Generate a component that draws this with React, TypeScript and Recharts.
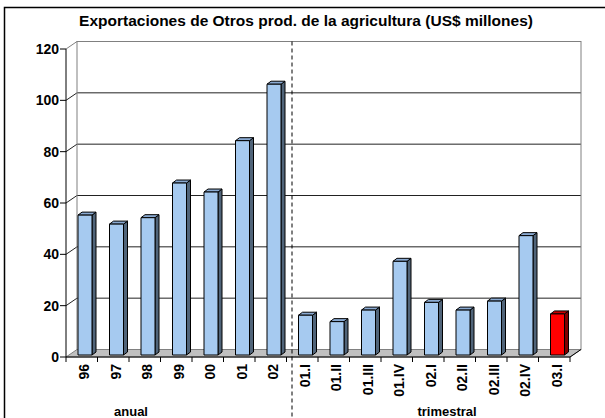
import { Bar, BarChart, CartesianGrid, ReferenceArea, XAxis, YAxis } from 'recharts'

const categories = ['96', '97', '98', '99', '00', '01', '02', '01.I', '01.II', '01.III', '01.IV', '02.I', '02.II', '02.III', '02.IV', '03.I']
const values = [54.5, 51, 53.5, 67, 63.5, 83.5, 105.5, 15.5, 13, 17.5, 36.5, 20.5, 17.5, 21, 46.5, 16]
const highlighted = ['03.I']
const yTicks = [0, 20, 40, 60, 80, 100, 120]
const firstQuarter = '01.I'
const title = 'Exportaciones de Otros prod. de la agricultura (US$ millones)'
const groupLabels = [
  { text: 'anual', x: 131 },
  { text: 'trimestral', x: 447 },
]

const data = categories.map((cat, i) => ({ cat, value: values[i] }))

const W = 605
const H = 418
const PLOT_LEFT = 69
const PLOT_RIGHT = 573
const PLOT_TOP = 47
const PLOT_BOTTOM = 355
// excel-style 3d: front axis plane and back wall relative to the bar plane
const FRONT = { dx: -3, dy: 2 }
const BACK = { dx: 8, dy: -5.5 }
const BAR_DEPTH = { dx: 4, dy: 3 }
const FONT = '"Liberation Sans", Arial, sans-serif'

function Bar3D(props: any) {
  const { x, y, width, height, payload } = props
  if (height == null || height <= 0) return null
  const red = highlighted.includes(payload.cat)
  const c = red
    ? { face: '#FF0000', top: '#C80000', side: '#800000' }
    : { face: '#A6CAF0', top: '#8AAAD2', side: '#506479' }
  const { dx, dy } = BAR_DEPTH
  const r = x + width
  const b = y + height
  return (
    <g stroke="#000" strokeWidth={1} strokeLinejoin="round">
      <polygon points={`${r},${y} ${r + dx},${y - dy} ${r + dx},${b - dy} ${r},${b}`} fill={c.side} />
      <polygon points={`${x},${y} ${x + dx},${y - dy} ${r + dx},${y - dy} ${r},${y}`} fill={c.top} />
      <rect x={x} y={y} width={width} height={height} fill={c.face} />
    </g>
  )
}

function Walls(props: any) {
  const { x, y, width: w, height: h } = props
  const fx = x + FRONT.dx
  const bx = x + BACK.dx
  const fb = y + h + FRONT.dy
  const bb = y + h + BACK.dy
  const bt = y + BACK.dy
  return (
    <g>
      <rect x={bx} y={bt} width={w} height={h} fill="none" stroke="#808080" />
      <line x1={fx} y1={y + FRONT.dy} x2={bx} y2={bt} stroke="#808080" />
      <polygon
        points={`${fx},${fb} ${fx + w},${fb} ${bx + w},${bb} ${bx},${bb}`}
        fill="#C0C0C0"
        stroke="#808080"
      />
      <line x1={fx} y1={fb} x2={fx + w} y2={fb} stroke="#000" />
      <line x1={fx + w} y1={fb} x2={bx + w} y2={bb} stroke="#000" />
      <line x1={fx} y1={y + FRONT.dy} x2={fx} y2={fb} stroke="#000" />
    </g>
  )
}

function GridLine(props: any) {
  const { y1, x1, x2 } = props
  const key = props.key ?? `g-${y1}`
  if (Math.abs(y1 - PLOT_BOTTOM) < 0.5 || Math.abs(y1 - PLOT_TOP) < 0.5) return <g key={key} />
  return (
    <g key={key} stroke="#222" strokeWidth={1}>
      <line x1={x1 + BACK.dx} y1={y1 + BACK.dy} x2={x2 + BACK.dx} y2={y1 + BACK.dy} />
      <line x1={x1 + FRONT.dx} y1={y1 + FRONT.dy} x2={x1 + BACK.dx} y2={y1 + BACK.dy} />
    </g>
  )
}

function YTick(props: any) {
  const { y, payload } = props
  const ax = PLOT_LEFT + FRONT.dx
  const ty = y + FRONT.dy
  return (
    <g>
      <line x1={ax - 6} y1={ty} x2={ax} y2={ty} stroke="#000" />
      <text
        x={ax - 7}
        y={ty}
        textAnchor="end"
        dominantBaseline="central"
        fontFamily={FONT}
        fontWeight="bold"
        fontSize={14}
        fill="#000"
      >
        {payload.value}
      </text>
    </g>
  )
}

function XTick(props: any) {
  const { x, payload } = props
  const band = (PLOT_RIGHT - PLOT_LEFT) / categories.length
  const idx = categories.indexOf(payload.value)
  const ay = PLOT_BOTTOM + FRONT.dy
  const left = x - band / 2 + FRONT.dx
  const ly = ay + 7
  return (
    <g>
      <line x1={left} y1={ay} x2={left} y2={ay + 5} stroke="#000" />
      {idx === categories.length - 1 && (
        <line x1={left + band} y1={ay} x2={left + band} y2={ay + 5} stroke="#000" />
      )}
      {payload.value === firstQuarter && (
        <line
          x1={x - band / 2 + 2.5}
          y1={PLOT_TOP + BACK.dy}
          x2={x - band / 2 + 2.5}
          y2={H}
          stroke="#000"
          strokeDasharray="4 3"
        />
      )}
      <text
        x={x - 0.5}
        y={ly}
        transform={`rotate(-90 ${x - 0.5} ${ly})`}
        textAnchor="end"
        dominantBaseline="central"
        fontFamily={FONT}
        fontWeight="bold"
        fontSize={14}
        fill="#000"
      >
        {payload.value}
      </text>
    </g>
  )
}

export default function App() {
  return (
    <div style={{ position: 'absolute', left: 0, top: 0, width: W, height: H, background: '#fff', overflow: 'hidden' }}>
      <BarChart
        width={W}
        height={H}
        data={data}
        margin={{ top: PLOT_TOP, right: W - PLOT_RIGHT, bottom: 0, left: 0 }}
      >
        <ReferenceArea y1={0} y2={120} shape={(p: any) => <Walls {...p} />} ifOverflow="visible" />
        <CartesianGrid vertical={false} horizontal={(p: any) => <GridLine {...p} />} />
        <XAxis
          dataKey="cat"
          height={H - PLOT_BOTTOM}
          interval={0}
          axisLine={false}
          tickLine={false}
          tick={(p: any) => <XTick {...p} />}
        />
        <YAxis
          width={PLOT_LEFT}
          domain={[0, 120]}
          ticks={yTicks}
          axisLine={false}
          tickLine={false}
          tick={(p: any) => <YTick {...p} />}
        />
        <Bar dataKey="value" barSize={14} shape={(p: any) => <Bar3D {...p} />} isAnimationActive={false} />
      </BarChart>
      <svg width={W} height={H} style={{ position: 'absolute', left: 0, top: 0, pointerEvents: 'none' }}>
        <rect x={4.5} y={7.5} width={W + 10} height={H + 10} fill="none" stroke="#000" strokeWidth={1.5} />
        <text x={306} y={25.5} textAnchor="middle" fontFamily={FONT} fontWeight="bold" fontSize={15.5} fill="#000">
          {title}
        </text>
        {groupLabels.map((g) => (
          <text key={g.text} x={g.x} y={416} textAnchor="middle" fontFamily={FONT} fontWeight="bold" fontSize={13} fill="#000">
            {g.text}
          </text>
        ))}
      </svg>
    </div>
  )
}
